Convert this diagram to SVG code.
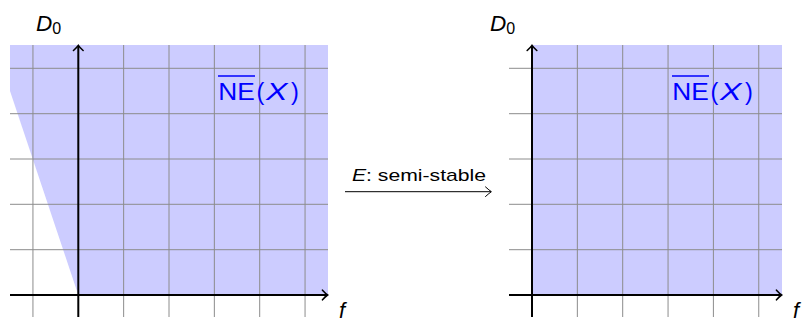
<svg xmlns="http://www.w3.org/2000/svg" width="806" height="324" viewBox="0 0 806 324">
<defs>
<style>
.grid{stroke:#8c8c8c;stroke-width:1;fill:none}
.axis{stroke:#000;stroke-width:2;fill:none}
.fill{fill:#ccccff;stroke:none}
.lbl{font-family:"Liberation Sans","DejaVu Sans",sans-serif;fill:#000}
.ne{font-family:"Liberation Sans","DejaVu Sans",sans-serif;fill:#0000ff;font-size:23.5px}
</style>
<marker id="arr" viewBox="-6 -6 8 12" markerWidth="8" markerHeight="12" refX="0" refY="0" orient="auto" markerUnits="userSpaceOnUse">
<path d="M-4.5,-4.8 Q-1.2,-1.2 0.6,0 Q-1.2,1.2 -4.5,4.8" fill="none" stroke="#000" stroke-width="1.6" stroke-linecap="round"/>
</marker>
<marker id="arr2" viewBox="-7 -6 9 12" markerWidth="9" markerHeight="12" refX="0" refY="0" orient="auto" markerUnits="userSpaceOnUse">
<path d="M-5.5,-4.8 Q-1.5,-1.2 0.4,0 Q-1.5,1.2 -5.5,4.8" fill="none" stroke="#000" stroke-width="1" stroke-linecap="round"/>
</marker>
</defs>

<g id="left-panel">
<rect class="fill" x="10" y="45" width="318" height="250"/>
<polygon points="10,91 78.3,295 10,295" fill="#ffffff"/>
<g class="grid">
<path d="M32.95,45V317M123.65,45V317M169,45V317M214.35,45V317M259.7,45V317M305.05,45V317"/>
<path d="M10,68.3H328M10,113.7H328M10,159H328M10,204.3H328M10,249.7H328"/>
</g>
<line class="axis" x1="10" y1="295" x2="327" y2="295" marker-end="url(#arr)"/>
<line class="axis" x1="78.3" y1="317" x2="78.3" y2="46" marker-end="url(#arr)"/>
<text class="lbl" x="36" y="31" font-size="22.5" font-style="italic">D<tspan font-style="normal" font-size="16" dy="3">0</tspan></text>
<text class="lbl" x="339" y="318" font-size="22" font-style="italic">f</text>
<line x1="218" y1="76" x2="255" y2="76" stroke="#0000ff" stroke-width="1.3"/>
<text class="ne" y="99.5"><tspan x="218.3" textLength="36.5" lengthAdjust="spacingAndGlyphs">NE</tspan><tspan x="256.5">(</tspan><tspan x="266" font-style="italic" textLength="21.5" lengthAdjust="spacingAndGlyphs">X</tspan><tspan x="291">)</tspan></text>
</g>

<g id="right-panel">
<rect class="fill" x="532" y="45" width="250" height="250"/>
<g class="grid">
<path d="M577.35,45V317M622.7,45V317M668.05,45V317M713.4,45V317M758.75,45V317"/>
<path d="M509,68.3H782M509,113.7H782M509,159H782M509,204.3H782M509,249.7H782"/>
</g>
<line class="axis" x1="509" y1="295" x2="781" y2="295" marker-end="url(#arr)"/>
<line class="axis" x1="532" y1="317" x2="532" y2="46" marker-end="url(#arr)"/>
<text class="lbl" x="490" y="31" font-size="22.5" font-style="italic">D<tspan font-style="normal" font-size="16" dy="3">0</tspan></text>
<text class="lbl" x="793" y="318" font-size="22" font-style="italic">f</text>
<line x1="672" y1="76" x2="709" y2="76" stroke="#0000ff" stroke-width="1.3"/>
<text class="ne" y="99.5"><tspan x="672.3" textLength="36.5" lengthAdjust="spacingAndGlyphs">NE</tspan><tspan x="710.5">(</tspan><tspan x="720" font-style="italic" textLength="21.5" lengthAdjust="spacingAndGlyphs">X</tspan><tspan x="745">)</tspan></text>
</g>

<g id="connectors">
<line x1="345" y1="191.7" x2="491" y2="191.7" stroke="#000" stroke-width="1" marker-end="url(#arr2)"/>
<text class="lbl" x="352" y="181" font-size="17" textLength="134" lengthAdjust="spacingAndGlyphs"><tspan font-style="italic">E</tspan>: semi-stable</text>
</g>
</svg>
